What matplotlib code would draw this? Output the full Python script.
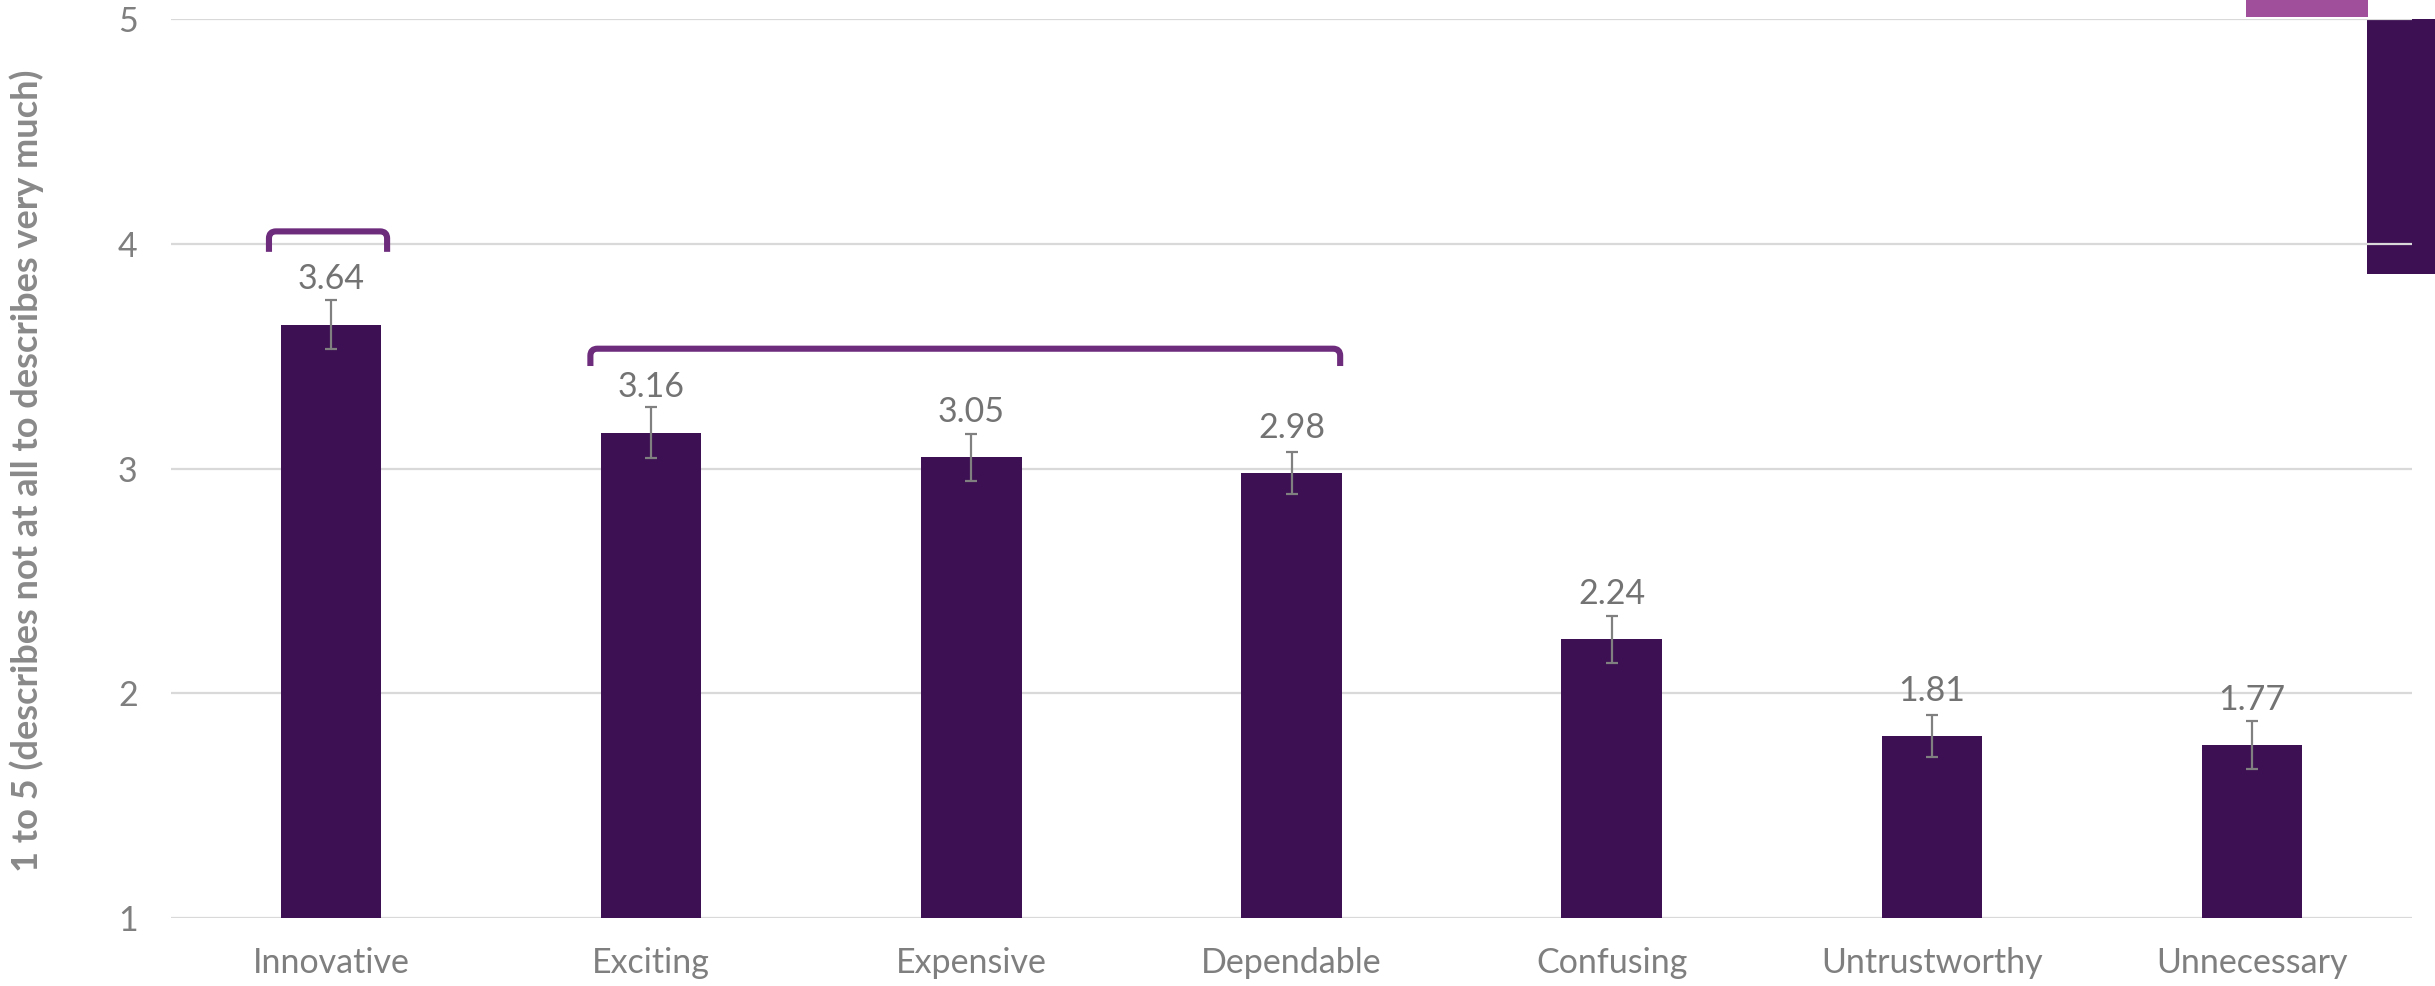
import matplotlib
matplotlib.use("Agg")
import matplotlib.pyplot as plt
import numpy as np
from matplotlib.patches import Rectangle, PathPatch
from matplotlib.path import Path

# ---- data ----
categories = ["Innovative", "Exciting", "Expensive", "Dependable", "Confusing", "Untrustworthy", "Unnecessary"]
values = [3.64, 3.16, 3.05, 2.98, 2.24, 1.81, 1.77]
errors = [0.11, 0.113, 0.105, 0.095, 0.105, 0.095, 0.105]
yticks = [1, 2, 3, 4, 5]
ylabel = "1 to 5 (describes not at all to describes very much)"

BAR = "#3C1053"
BRACKET = "#6E2C7D"
GRID = "#D9D9D9"
TXT = "#737373"

plt.rcParams['font.family'] = ['Lato', 'DejaVu Sans']

W, H = 2435, 986
fig = plt.figure(figsize=(W / 100, H / 100), dpi=100)
fig.patch.set_facecolor("white")

# decorative slide shapes (behind the axes)
fig.patches.append(Rectangle((2246 / W, 1 - 17 / H), (2368 - 2246) / W, 17 / H,
                             transform=fig.transFigure, facecolor="#A0509B", edgecolor="none", zorder=-1))
fig.patches.append(Rectangle((2367 / W, 1 - 274 / H), (W - 2367) / W, (274 - 19) / H,
                             transform=fig.transFigure, facecolor=BAR, edgecolor="none", zorder=-1))

ax = fig.add_axes([171 / W, 1 - 918 / H, (2412 - 171) / W, (918 - 19) / H])
ax.set_facecolor("none")
x = np.arange(len(categories))
vals = np.array(values)
ax.bar(x, vals - 1, bottom=1, width=0.314, color=BAR, zorder=2)
ax.errorbar(x, vals, yerr=errors, fmt="none", ecolor="#808080", elinewidth=1.6,
            capsize=4.2, capthick=1.6, zorder=3)

for xi, v, e in zip(x, vals, errors):
    ax.annotate(f"{v:.2f}", (xi, v), xytext=(0, 21), textcoords="offset points",
                ha="center", va="bottom", fontsize=24.5, color=TXT, zorder=4)

ax.set_xlim(-0.5, len(categories) - 0.5)
ax.set_ylim(1, 5)
ax.set_yticks(yticks)
ax.set_xticks(x)
ax.set_xticklabels(categories)
ax.tick_params(axis="both", length=0, labelsize=24.5, labelcolor="#7F7F7F")
ax.tick_params(axis="y", pad=24)
ax.tick_params(axis="x", pad=21)
ax.yaxis.grid(True, color=GRID, lw=1.6, zorder=0)
ax.set_axisbelow(True)
for s in ax.spines.values():
    s.set_visible(False)


def bracket(x0, x1, ytop, ybot, rx=0.022, ry=0.031):
    verts = [(x0, ybot), (x0, ytop - ry), (x0, ytop), (x0 + rx, ytop),
             (x1 - rx, ytop), (x1, ytop), (x1, ytop - ry), (x1, ybot)]
    codes = [Path.MOVETO, Path.LINETO, Path.CURVE3, Path.CURVE3,
             Path.LINETO, Path.CURVE3, Path.CURVE3, Path.LINETO]
    p = PathPatch(Path(verts, codes), facecolor="none", edgecolor=BRACKET,
                  lw=4.4, capstyle="butt", joinstyle="round", zorder=5)
    ax.add_patch(p)


bracket(-0.194, 0.175, 4.055, 3.964)
bracket(0.81, 3.152, 3.533, 3.456)

fig.text(27 / W, 1 - 471 / H, ylabel, rotation=90, ha="center", va="center",
         fontsize=26, fontweight="bold", color="#898989")

fig.savefig("out.png", dpi=100)
